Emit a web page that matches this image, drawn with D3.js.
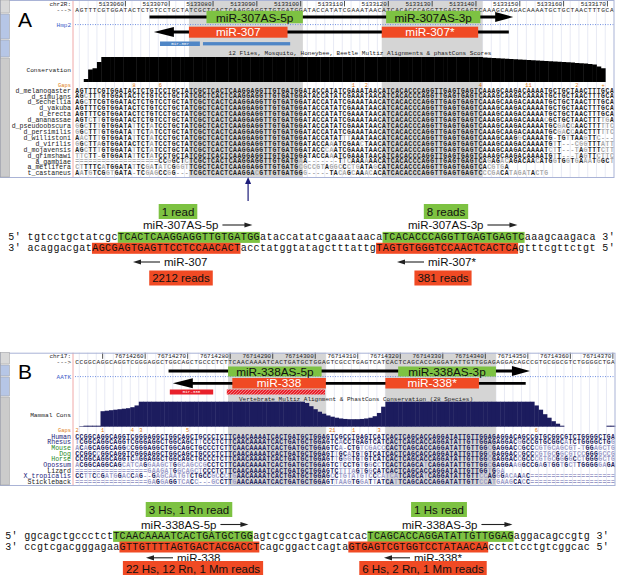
<!DOCTYPE html>
<html lang="en">
<head>
<meta charset="utf-8">
<title>miR-307 / miR-338 antisense loci</title>
<script src="https://cdnjs.cloudflare.com/ajax/libs/d3/7.8.5/d3.min.js"></script>
<style>
  body { margin: 0; background: #fff; }
  svg { display: block; }
</style>
</head>
<body>
<script>
// ================= panel A : fly chr2R, miR-307 =================
var aChrom = "chr2R:";
var aStart = 5133049;
var aTicks = [5133060, 5133070, 5133080, 5133090, 5133100, 5133110, 5133120, 5133130, 5133140, 5133150, 5133160, 5133170];
var aRef = "AGTTTCGTGGATACTCTGTCCTGCTATCGCTCACTCAAGGAGGTTGTGATGGATACCATATCGAAATAACATCACACCCAGGTTGAGTGAGTCAAAGCAAGACAAAATGCTGCTAACTTTGCA";
var aSpecies = ["d_melanogaster", "d_simulans", "d_sechellia", "d_yakuba", "d_erecta", "d_ananassae", "d_pseudoobscura",
  "d_persimilis", "d_willistoni", "d_virilis", "d_mojavensis", "d_grimshawi", "a_gambiae", "a_mellifera", "t_castaneus"];
var aAlign = [
  "AGTTTCGTGGATACTCTGTCCTGCTATCGC" + "TCACTCAAGGAGGTTGTGATGG" + "ATACCATATCGAAATAACA" + "TCACACCCAGGTTGAGTGAGTC" + "AAAGCAAGACAAAATGCTGCTAACTTTGCA",
  "AGCTTTGTGGATACTCTGTCCTGCTATCGC" + "TCACTCAAGGAGGTTGTGATGG" + "ATACCATATCGAAATAACA" + "TCACACCCAGGTTGAGTGAGTC" + "AAAGCAAGACAAAATGCTGCTAACTTTGCA",
  "AGCTTCGTGGATACTCTGTCCTGCTATCGC" + "TCACTCAAGGAGGTTGTGATGG" + "ATACCATATCGAAATAACA" + "TCACACCCAGGTTGAGTGAGTC" + "AAAGCAAGACAAAATGCTGCTAACTTTGCA",
  "AGTTTCGTGGATACTCTGTCCTGCTATCGC" + "TCACTCAAGGAGGTTGTGATGG" + "ATACCATATCGAAATAACA" + "TCACACCCAGGTTGAGTGAGTC" + "AAAGCAAGACAAAATGCTGCTAACTTTGCA",
  "AGTTTCGTGGATACTCTGTCCTGCTATCGC" + "TCACTCAAGGAGGTTGTGATGG" + "ATACCATATCGAAATAACA" + "TCACACCCAGGTTGAGTGAGTC" + "AAAGCAAGACAAAATGCTGCTAACTTTGCA",
  "AGTCTTGTGGATACTCTGTCCTGCTATCGC" + "TCACTCAAGGAGGTTGTGATGG" + "ATACCATATCGAAATAACA" + "TCACACCCAGGTTGAGTGAGTC" + "AAAGCAAGACAAAACGCTGCTAACTTTTGA",
  "GGCTTTGTGGATATTCTATCCTGCTATCGC" + "TCACTCAAGGAGGTTGTGATGG" + "ATACCATATCGAAATAACA" + "TCACACCCAGGTTGAGTGAGTC" + "AAAGCAAGACAAAATGCGACCAACTTTTTC",
  "GGCTTTGTGGATATTCTATCCTGCTATCGC" + "TCACTCAAGGAGGTTGTGATGG" + "ATACCATATCGAAATAACA" + "TCACACCCAGGTTGAGTGAGTC" + "AAAGCAAGACAAAATGCGACCAACTTTTTC",
  "AACTTTGTGGATATTCTATCCTGCTATCGC" + "TCACTCAAGGAGGTTGTGATGG" + "ATACCATATTTAAATAACA" + "TCACACCCAGGTTGAGTGAGTC" + "AAAGCAAGGCAAAATG-TGTTAAGTTC---",
  "GGCTTAGTGGATACTCTATCCTGCTATCGC" + "TCACTCAAGGAGGTTGTGATGG" + "ATACCAAATCGAACTAACA" + "TCACACCCAGGTTGAGTGAGTC" + "AAAGCAAGACAAAATGTT---CGGTTTATT",
  "AGCTTTGTGGATATTCTATCCTGCTATCGC" + "TCACTCAAGGAGGTTGTGATGG" + "ATACCCAATCGAAATAACA" + "TCACACCCAGGTTGAGTGAGTC" + "AAAGCAAGACAAAATCTT---TAGTTTCTT",
  "TTCTT-GTGGATATTCTATCCTGCTATCGC" + "TCACTCAAGGAGGTTGTGATGG" + "ATACCAAATCGAAATAACA" + "TCACACCCAGGTTGAGTGAGTC" + "AAAGCAAGACAAAATGTT---TAGTTCTTC",
  "===================CCGGCTCTCGC" + "TCACTCAAGGAGGTTGTGATGA" + "A-------TTCAAAAAACA" + "TCACACCCAGGTTGAGTGAGTC" + "AGAGACAGACAACATGGTGGTGAAATGGCT",
  "CTTTTCATGGATATTCGATATCGGGTTCGC" + "TCACTCAAGGAGGTTGTGATGC" + "GCCGTAGGCCCTGATAGCA" + "TCACACCCAGGTTGAGTGAGTC" + "ACGTGA                        ",
  "AATGTCGGTGATA-TCGAGCCGG---TCGC" + "TCACTCAAGGACGTTGTGATGG" + "G-----TACAGCAAACACA" + "TCACACCCAGGTTGAGTGAGTC" + "CCGACATAGATACTG               "
];
var aCons = [0, 0, 0.12, 0.5, 0.55, 0.8,
  1, 1, 1, 1, 1, 1, 1, 1, 1, 1,
  1, 1, 1, 1, 1, 1, 1, 1, 1, 1,
  1, 1, 1, 1, 1, 1, 1, 1, 1, 1,
  1, 1, 1, 1, 1, 1, 1, 1, 1, 1,
  1, 1, 1, 1, 1, 1, 1, 1, 1, 1,
  1, 1, 1, 1, 1, 1, 1, 1, 1, 1,
  1, 1, 1, 1, 1, 1, 1, 1, 1, 1,
  1, 1, 1, 1, 1, 1, 1, 1, 1, 1,
  1, 1, 1, 1, 1, 1,
  1, 0.98, 0.97, 0.96, 0.95, 0.94, 0.93, 0.92, 0.91, 0.9, 0.89, 0.88, 0.87, 0.86, 0.85, 0.84,
  0.83, 0.82, 0.81, 0.8, 0.79, 0.78, 0.76, 0.75, 0.74, 0.72, 0.7, 0.62, 0.55, 0, 0];
var aGapPos = [13, 19, 63, 66, 92, 103, 114, 120];
var aGapText = ["8", "6", "1", "2", "4", "11", "2", "+"];
var aGene = "Hmp2";
var aConsName = "Conservation";
var aTrackTitle = "12 Flies, Mosquito, Honeybee, Beetle Multiz Alignments & phastCons Scores";
var aSenseNames = ["miR-307AS-5p", "miR-307AS-3p"];
var aSenseSpans = [[30, 52], [71, 92.5]];
var aMirNames = ["miR-307", "miR-307*"];
var aMirSpans = [[26, 48.5], [70, 92]];
var aShade = [[26, 52], [70, 93]];
var aSenseLine = [17, 100];
var aMirLine = [18, 99];
var aKnown = ["mir-307", 19.4, 28.5, 29.2, 49.1];
var aPointer = 39;
var aTop = "5' tgtcctgctatcgcTCACTCAAGGAGGTTGTGATGGataccatatcgaaataacaTCACACCCAGGTTGAGTGAGTCaaagcaagaca 3'";
var aBot = "3' acaggacgatAGCGAGTGAGTTCCTCCAACACTacctatggtatagctttattgTAGTGTGGGTCCAACTCACTCAgtttcgttctgt 5'";
var aSenseReads = ["1 read", "8 reads"];
var aMirReads = ["2212 reads", "381 reads"];

// ================= panel B : human chr17, miR-338 =================
var bChrom = "chr17:";
var bStart = 76714244;
var bTicks = [76714250, 76714260, 76714270, 76714280, 76714290, 76714300, 76714310, 76714320, 76714330, 76714340, 76714350, 76714360, 76714370];
var bRef = "CCGGCAGGCAGGTCGGGAGGCTGGCAGCTGCCCTCTTCAACAAAATCACTGATGCTGGAGTCGCCTGAGTCATCACTCAGCACCAGGATATTGTTGGAGAGGACAGCCGTGCGGCGTCTGGGGCTGA";
var bSpecies = ["Human", "Rhesus", "Mouse", "Dog", "Horse", "Opossum", "Lizard", "X_tropicalis", "Stickleback"];
var bAlign = [
  "CCGGCAGGCAGGTCGGGAGGCTGGCAGCTGCCCTCT" + "TCAACAAAATCACTGATGCTGG" + "AGTCGCCTGAGTCATCAC" + "TCAGCACCAGGATATTGTTGGAG" + "AGGACAGCCGTGCGGCGTCTGGGGCTGA",
  "TCGGCAGGCAGGTCGGGAGGCTGGCAGCTTCCCTCT" + "TCAACAAAATCACTGATGCTGG" + "AGTCACCTGAGTCATCAC" + "TCAGCACCAGGATATTGTTGGAG" + "AGGACGGCCGTGCGGCATCTGGGGCTGG",
  "ACAGCAGGCAGGCCGGGAGGCTGGCAGCTGCCCTCT" + "TCAACAAAATCACTGATGCTGG" + "AGTCA-CTGTCGACCCAC" + "TCAGCACCAGGATATTGTTGGCG" + "AGGACCGCCCGTGCAGCGT-TGGAGCTG",
  "CCGGCCGGCAGGTCGGGAGGCTGGCAGCTGCCCTCT" + "TCAACAAAATCACTGATGCTGG" + "AGTTGCATGTGTCATCAC" + "TCAGCACCAGGATATTGTTGGCG" + "AGGACCGCCCGTGCGGCGTCCGGGGCCG",
  "CCGGCAGGCAGGTCAGGAGGCTGGCAGCTGCCCTCT" + "TCAACAAAATCACTGATGCTGG" + "AGTTGGGTGTGTCATCAC" + "TCAGCACCAGGATATTGTTGGCG" + "AGGACCGCCCGTGCGGGGCCTGGGGCTG",
  "ACGGCAGGCAGCATCAGGAAGCTGGCAGCCGCCTCT" + "TCAACAAAATCACTGATGCTGG" + "AGTCTCCTGTGGCCTCAC" + "TCAGCATCAGGATATTGTTGGCG" + "AGGAAGGCCGAGTGGTGCTTGGGGGAGA",
  "=================GAAGATGGCAGCTCCCTCT" + "TCAACAAAATCACTGATGCTGG" + "AGTCTTTAGTGGCATCAC" + "TCAGCACCAGGATATTGTTGGTG" + "GA                          ",
  "CCTTCCGATGGACCAG--GAGCAATGTCTGCCGCCC" + "TGAACAAAATCACTGATGCTGG" + "AGCCTGTATGTCCCATCA" + "TCAGCATCAGGATATTGTTCCAG" + "GGACAAAC====================",
  "=================GAGGAGGTCACC---GCCT" + "TGAACAAAATCACTGATGCTGG" + "AGTTAAGTGGATTATCAT" + "TCAGCACCAGGATATTGTTCCAT" + "GAAGCACC===================="
];
var bCons = [0, 0.02, 0.04, 0.04, 0.04, 0.04,
  0.62, 0.64, 0.66, 0.68, 0.7, 0.72, 0.74, 0.78, 0.85,
  1, 1, 1, 1, 1, 1, 1, 1, 1, 1,
  1, 1, 1, 1, 1, 1, 1, 1, 1, 1,
  1, 1, 1, 1, 1, 1, 1, 1, 1, 1,
  1, 1, 1, 1, 1, 1, 1, 1, 1,
  0.95, 0.82, 0.7, 0.6, 0.52, 0.45, 0.4, 0.36, 0.33, 0.31, 0.3, 0.3, 0.3, 0.31, 0.33, 0.36, 0.42, 0.55, 0.8,
  1, 1, 1, 1, 1, 1, 1, 1, 1, 1,
  1, 1, 1, 1, 1, 1, 1, 1, 1, 1,
  1, 1, 1, 1, 1, 1, 1, 1, 1, 1,
  1, 1, 1, 1, 1,
  0.85, 0.68, 0.5, 0.36, 0.22, 0.12, 0.04,
  0, 0, 0, 0, 0, 0, 0, 0, 0, 0, 0.04, 0.04];
var bGapPos = [0, 6, 13, 15, 26, 60, 65, 71, 108];
var bGapText = ["2", "1", "4", "3", "5", "21", "1", "3", "6"];
var bGene = "AATK";
var bConsName = "Mammal Cons";
var bTrackTitle = "Vertebrate Multiz Alignment & PhastCons Conservation (28 Species)";
var bSenseNames = ["miR-338AS-5p", "miR-338AS-3p"];
var bSenseSpans = [[36, 58], [76, 99]];
var bMirNames = ["miR-338", "miR-338*"];
var bMirSpans = [[37, 59], [73, 95]];
var bShade = [[36, 59], [73, 99]];
var bSenseLine = [22, 107];
var bMirLine = [23, 106];
var bKnown = ["mir-338", 22.3, 32.5, 35.7, 58.8];
var bTop = "5' ggcagctgccctctTCAACAAAATCACTGATGCTGGagtcgcctgagtcatcacTCAGCACCAGGATATTGTTGGAGaggacagccgtg 3'";
var bBot = "3' ccgtcgacgggagaaGTTGTTTTAGTGACTACGACCTcagcggactcagtaGTGAGTCGTGGTCCTATAACAAcctctcctgtcggcac 5'";
var bSenseReads = ["3 Hs, 1 Rn  read", "1 Hs read"];
var bMirReads = ["22 Hs, 12 Rn, 1 Mm reads", "6 Hs, 2 Rn, 1 Mm reads"];

// ---------------------------------------------------------------
var W = 618, H = 575;
var MONO = "'Liberation Mono','DejaVu Sans Mono',monospace";
var SANS = "'Liberation Sans',Arial,Helvetica,sans-serif";
var GREEN = "#7dc242", RED = "#f04a24";

var svg = d3.select("body").append("svg").attr("width", W).attr("height", H)
  .style("font-family", SANS);

var defs = svg.append("defs");
var hatch = defs.append("pattern").attr("id", "hatch").attr("width", 3).attr("height", 3)
  .attr("patternUnits", "userSpaceOnUse");
hatch.append("rect").attr("width", 3).attr("height", 3).attr("fill", "#e8212b");
hatch.append("path").attr("d", "M0,3 L3,0").attr("stroke", "#f7a0a0").attr("stroke-width", 0.7);

function label(g, x, y, txt, size, color, anchor, fam) {
  return g.append("text").attr("x", x).attr("y", y).attr("dy", "0.35em")
    .attr("text-anchor", anchor || "start").attr("font-family", fam || MONO)
    .attr("font-size", size).attr("fill", color || "#222").text(txt);
}

// one text element per sequence row, one tspan per base
function seqRow(g, str, xc, y, size, colorOf) {
  var t = g.append("text").attr("y", y).attr("dy", "0.35em").attr("text-anchor", "middle")
    .attr("font-family", MONO).attr("font-size", size).attr("font-weight", "bold");
  t.selectAll("tspan").data(str.split("").map((c, i) => [c, i]).filter(d => d[0] !== " ")).join("tspan")
    .attr("x", d => xc(d[1])).attr("fill", d => colorOf(d[0], d[1])).text(d => d[0]);
  return t;
}

function drawBrowser(d, L) {
  var g = svg.append("g");
  var n = d.ref.length;
  var x = d3.scaleLinear().domain([0, n]).range([75, L.right]);
  var bw = x(1) - x(0);
  var xc = function (i) { return x(i + 0.5); };
  var h = L.bottom - L.top;

  g.append("rect").attr("x", 0).attr("y", L.top).attr("width", L.right).attr("height", h).attr("fill", "#fff");

  // guide lines
  g.append("g").selectAll("line").data(d3.range(1, n, 2)).join("line")
    .attr("x1", i => x(i)).attr("x2", i => x(i)).attr("y1", L.top).attr("y2", L.bottom)
    .attr("stroke", "#e2e5f1").attr("stroke-width", 0.8);

  // highlighted miRNA columns
  g.append("g").selectAll("rect").data(d.shade).join("rect")
    .attr("x", s => x(s[0])).attr("width", s => x(s[1]) - x(s[0]))
    .attr("y", L.top).attr("height", h).attr("fill", "#d5d5d5");

  // ruler
  label(g, 71, L.ruler, d.chrom, 6, "#222", "end");
  label(g, 71, L.seq, "--->", 6, "#222", "end");
  d.ticks.forEach(function (t) {
    var tx = xc(t - d.start);
    g.append("line").attr("x1", tx).attr("x2", tx).attr("y1", L.ruler - 3.3).attr("y2", L.ruler + 2.8)
      .attr("stroke", "#222").attr("stroke-width", 0.8);
    var s = String(t);
    if (tx - s.length * 3.6 - 2 > 76) label(g, tx - 1.5, L.ruler, s, 6, "#222", "end");
  });
  seqRow(g, d.ref, xc, L.seq, 6.2, () => "#222").attr("font-weight", "normal");

  // gene track (dotted)
  label(g, 71, L.gene, d.gene, 6, "#3a5cc8", "end");
  g.append("line").attr("x1", 75).attr("x2", L.right).attr("y1", L.gene).attr("y2", L.gene)
    .attr("stroke", "#6f8fe0").attr("stroke-width", 1).attr("stroke-dasharray", "1,1.5");

  // antisense transcript (plus strand)
  var s0 = x(d.senseLine[0]), s1 = x(d.senseLine[1]);
  g.append("line").attr("x1", s0).attr("x2", s1 - 12).attr("y1", L.senseY).attr("y2", L.senseY)
    .attr("stroke", "#000").attr("stroke-width", 2.8);
  g.append("path").attr("d", "M" + (s1 - 18) + "," + (L.senseY - 5) + "L" + s1 + "," + L.senseY + "L" + (s1 - 18) + "," + (L.senseY + 5) + "Z");
  // miRNA hairpin (minus strand)
  var m0 = x(d.mirLine[0]), m1 = x(d.mirLine[1]);
  g.append("line").attr("x1", m0 + 12).attr("x2", m1).attr("y1", L.mirY).attr("y2", L.mirY)
    .attr("stroke", "#000").attr("stroke-width", 2.8);
  g.append("path").attr("d", "M" + (m0 + 20) + "," + (L.mirY - 5) + "L" + m0 + "," + L.mirY + "L" + (m0 + 20) + "," + (L.mirY + 5) + "Z");

  var gs = g.append("g").selectAll("g").data(d.senseSpans).join("g");
  gs.append("rect").attr("x", s => x(s[0])).attr("width", s => x(s[1]) - x(s[0]))
    .attr("y", L.green[0]).attr("height", L.green[1] - L.green[0]).attr("fill", GREEN);
  gs.append("text").attr("x", s => (x(s[0]) + x(s[1])) / 2).attr("y", L.green[2])
    .attr("dy", "0.36em").attr("text-anchor", "middle").attr("font-size", L.boxFont).attr("fill", "#111")
    .text((s, i) => d.senseNames[i]);
  var gm = g.append("g").selectAll("g").data(d.mirSpans).join("g");
  gm.append("rect").attr("x", s => x(s[0])).attr("width", s => x(s[1]) - x(s[0]))
    .attr("y", L.red[0]).attr("height", L.red[1] - L.red[0]).attr("fill", RED);
  gm.append("text").attr("x", s => (x(s[0]) + x(s[1])) / 2).attr("y", (L.red[0] + L.red[1]) / 2)
    .attr("dy", "0.36em").attr("text-anchor", "middle").attr("font-size", L.boxFont).attr("fill", "#fff")
    .text((s, i) => d.mirNames[i]);

  // known miRNA track
  var k = d.known;
  g.append("rect").attr("x", x(k[1])).attr("width", x(k[2]) - x(k[1])).attr("y", L.known[0])
    .attr("height", L.known[1] - L.known[0]).attr("fill", L.knownColor);
  label(g, (x(k[1]) + x(k[2])) / 2, (L.known[0] + L.known[1]) / 2, k[0], 4.2, "#fff", "middle");
  g.append("rect").attr("x", x(k[3])).attr("width", x(k[4]) - x(k[3])).attr("y", L.known[0] + L.knownInset)
    .attr("height", L.known[1] - L.known[0] - 2 * L.knownInset).attr("fill", L.knownBody);

  // conservation
  label(g, L.titleX, L.title, d.title, 6, "#222", "middle");
  var yc = d3.scaleLinear().domain([0, 1]).range([L.cons[1], L.cons[0]]);
  g.append("g").selectAll("rect").data(d.cons).join("rect")
    .attr("x", (v, i) => x(i)).attr("width", bw + 0.4)
    .attr("y", v => yc(v)).attr("height", v => yc(0) - yc(v)).attr("fill", L.consColor);
  label(g, 71, L.consLabel, d.consName, 6.2, "#222", "end");

  // gaps
  label(g, 71, L.gaps, "Gaps", 5.4, "#e07a10", "end");
  d.gapPos.forEach(function (p, i) {
    label(g, xc(p), L.gaps, d.gapText[i], 5.4, "#e07a10", "middle");
  });

  // species alignment
  d.species.forEach(function (sp, r) {
    var y = L.row0 + r * L.rowStep;
    label(g, 71, y, sp, 6.6, L.nameColor[r], "end");
    seqRow(g, d.align[r], xc, y, 6.4, function (c, i) { return c === d.ref[i] ? L.baseColor : L.diffColor; });
  });

  // frame, divider, side buttons
  g.append("line").attr("x1", 73).attr("x2", 73).attr("y1", L.top).attr("y2", L.bottom)
    .attr("stroke", "#f0a8a8").attr("stroke-width", 1);
  g.append("rect").attr("x", 0.5).attr("y", L.top + 0.5).attr("width", L.right - 0.5).attr("height", h - 1)
    .attr("fill", "none").attr("stroke", "#a9b3d6").attr("stroke-width", 1);
  g.append("g").selectAll("rect").data(L.side).join("rect")
    .attr("x", 0.5).attr("width", 9).attr("y", s => s[0]).attr("height", s => s[1] - s[0] - 1)
    .attr("fill", s => s[2]).attr("stroke", "#9a9a9a").attr("stroke-width", 0.5);

  svg.append("text").attr("x", 18).attr("y", L.letterY).attr("font-size", 21).attr("fill", "#000").text(L.letter);
  return x;
}

function duplex(top, bot, L) {
  var g = svg.append("g");
  var cx = d3.scaleLinear().domain([0, top.length]).range(L.xr);
  [[top, L.y5, GREEN], [bot, L.y3, RED]].forEach(function (ln) {
    var s = ln[0], runs = [], st = -1;
    for (var i = 0; i <= s.length; i++) {
      var up = i < s.length && /[ACGT]/.test(s[i]);
      if (up && st < 0) st = i;
      if (!up && st >= 0) { runs.push([st, i]); st = -1; }
    }
    g.append("g").selectAll("rect").data(runs).join("rect")
      .attr("x", r => cx(r[0])).attr("width", r => cx(r[1]) - cx(r[0]))
      .attr("y", ln[1] - 5.5).attr("height", 11).attr("fill", ln[2]);
    seqRow(g, s, i => cx(i + 0.5), ln[1], 10, () => "#111").attr("font-weight", "normal").attr("dy", "0.3em");
  });
}

function readBox(txt, cx, y, fill, size) {
  var g = svg.append("g");
  var t = g.append("text").attr("x", cx).attr("y", y).attr("dy", "0.36em").attr("text-anchor", "middle")
    .attr("font-size", size).attr("fill", "#111").text(txt);
  var w = t.node().getComputedTextLength() + 6;
  g.insert("rect", "text").attr("x", cx - w / 2).attr("y", y - 7.5).attr("width", w).attr("height", 15).attr("fill", fill);
}

function arrowLabel(txt, x, y, dir, len, size) {
  var g = svg.append("g");
  if (dir > 0) {
    var t = g.append("text").attr("x", x).attr("y", y).attr("dy", "0.36em").attr("font-size", size).attr("fill", "#111").text(txt);
    var a0 = x + t.node().getComputedTextLength() + 4, a1 = a0 + len;
    g.append("line").attr("x1", a0).attr("x2", a1 - 6).attr("y1", y).attr("y2", y).attr("stroke", "#222").attr("stroke-width", 1.1);
    g.append("path").attr("d", "M" + (a1 - 8) + "," + (y - 2.6) + "L" + a1 + "," + y + "L" + (a1 - 8) + "," + (y + 2.6) + "Z").attr("fill", "#222");
  } else {
    g.append("line").attr("x1", x + 6).attr("x2", x + len).attr("y1", y).attr("y2", y).attr("stroke", "#222").attr("stroke-width", 1.1);
    g.append("path").attr("d", "M" + (x + 8) + "," + (y - 2.6) + "L" + x + "," + y + "L" + (x + 8) + "," + (y + 2.6) + "Z").attr("fill", "#222");
    g.append("text").attr("x", x + len + 4).attr("y", y).attr("dy", "0.36em").attr("font-size", size).attr("fill", "#111").text(txt);
  }
}

// ---------------- panel A ----------------
var xA = drawBrowser({
  chrom: aChrom, start: aStart, ticks: aTicks, ref: aRef, species: aSpecies, align: aAlign, cons: aCons,
  gapPos: aGapPos, gapText: aGapText, gene: aGene, consName: aConsName, title: aTrackTitle,
  senseNames: aSenseNames, senseSpans: aSenseSpans, mirNames: aMirNames, mirSpans: aMirSpans,
  shade: aShade, senseLine: aSenseLine, mirLine: aMirLine, known: aKnown
}, {
  top: 0, bottom: 178, right: 614, ruler: 3.6, seq: 9.4, green: [10.8, 23.2, 17.6], senseY: 17, gene: 24.6,
  red: [26.7, 37.7], mirY: 32, known: [41.5, 46], knownColor: "#4f86c6", knownBody: "#4f86c6", knownInset: 0.6,
  title: 53.3, titleX: 360, cons: [57, 82], consColor: "#000", consLabel: 70, gaps: 85.2,
  row0: 90.3, rowStep: 5.91, boxFont: 11.8,
  nameColor: aSpecies.map(() => "#222"), baseColor: "#1e1e1e", diffColor: "#a9a9a9",
  side: [[0, 14, "#d9d9d9"], [14, 40, "#b6c6e6"], [40, 58, "#b6c6e6"], [58, 178, "#cbcbcb"]],
  letter: "A", letterY: 27
});
// blue pointer to the mellifera mismatch
svg.append("line").attr("x1", xA(aPointer + 0.5)).attr("x2", xA(aPointer + 0.5)).attr("y1", 183).attr("y2", 201)
  .attr("stroke", "#1c1c7a").attr("stroke-width", 1.2);
svg.append("path").attr("d", "M" + (xA(aPointer + 0.5) - 3) + ",184L" + xA(aPointer + 0.5) + ",177L" + (xA(aPointer + 0.5) + 3) + ",184Z")
  .attr("fill", "#1c1c7a");

readBox(aSenseReads[0], 178, 211.5, GREEN, 11.5);
readBox(aSenseReads[1], 446, 211.5, GREEN, 11.5);
arrowLabel(aSenseNames[0], 143, 225, 1, 30, 11.5);
arrowLabel(aSenseNames[1], 408, 225, 1, 30, 11.5);
duplex(aTop, aBot, { xr: [8, 615], y5: 237.4, y3: 248.3 });
arrowLabel(aMirNames[0], 133, 262, -1, 27, 11.5);
arrowLabel(aMirNames[1], 397, 262, -1, 27, 11.5);
readBox(aMirReads[0], 181, 278, RED, 11.5);
readBox(aMirReads[1], 443, 278, RED, 11.5);

// ---------------- panel B ----------------
drawBrowser({
  chrom: bChrom, start: bStart, ticks: bTicks, ref: bRef, species: bSpecies, align: bAlign, cons: bCons,
  gapPos: bGapPos, gapText: bGapText, gene: bGene, consName: bConsName, title: bTrackTitle,
  senseNames: bSenseNames, senseSpans: bSenseSpans, mirNames: bMirNames, mirSpans: bMirSpans,
  shade: bShade, senseLine: bSenseLine, mirLine: bMirLine, known: bKnown
}, {
  top: 352.7, bottom: 486, right: 615, ruler: 356, seq: 361.6, green: [366.5, 376.5, 371.8], senseY: 371, gene: 376.6,
  red: [378, 388.5], mirY: 383.3, known: [389.5, 394.5], knownColor: "#e8212b", knownBody: "url(#hatch)", knownInset: 0,
  title: 398.5, titleX: 356, cons: [401.7, 426.7], consColor: "#1c1c5e", consLabel: 415, gaps: 430.4,
  row0: 436.4, rowStep: 5.68, boxFont: 11.8,
  nameColor: ["#1c1c7a", "#1c1c7a", "#2a8a2a", "#2a8a2a", "#2a8a2a", "#1c1c7a", "#222", "#1c1c7a", "#222"],
  baseColor: "#23235e", diffColor: "#9c9cc8",
  side: [[352.7, 365, "#d9d9d9"], [365, 377, "#b6c6e6"], [377, 397, "#b6c6e6"], [397, 486, "#cbcbcb"]],
  letter: "B", letterY: 379
});

readBox(bSenseReads[0], 189, 509.5, GREEN, 11.5);
readBox(bSenseReads[1], 439, 509.5, GREEN, 11.5);
arrowLabel(bSenseNames[0], 141, 524.5, 1, 28, 11.5);
arrowLabel(bSenseNames[1], 402, 524.5, 1, 31, 11.5);
duplex(bTop, bBot, { xr: [5, 609], y5: 536.4, y3: 547 });
arrowLabel(bMirNames[0], 146, 557.8, -1, 27, 11.5);
arrowLabel(bMirNames[1], 384, 557.8, -1, 26, 11.5);
readBox(bMirReads[0], 193, 568.5, RED, 11.5);
readBox(bMirReads[1], 423, 568.5, RED, 11.5);
</script>
</body>
</html>
